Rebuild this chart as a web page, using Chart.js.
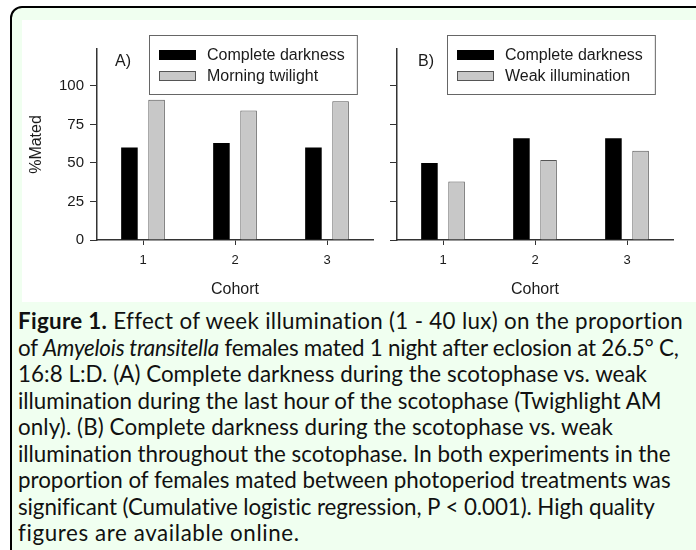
<!DOCTYPE html>
<html>
<head>
<meta charset="utf-8">
<script src="https://cdn.jsdelivr.net/npm/chart.js@4.4.0/dist/chart.umd.min.js"></script>
<style>
  html, body { margin: 0; padding: 0; background: #fff; width: 696px; height: 550px; overflow: hidden; }
  #frame { position: absolute; left: 10px; top: 6px; width: 720px; height: 580px; border: 2px solid #000; border-radius: 12px; background: #f0fff0; }
  #plot { position: absolute; left: 22px; top: 20px; width: 674px; height: 282px; background: #fff; }
  canvas { position: absolute; top: 0; }
  #chartA { left: 0; }
  #chartB { left: 363px; }
  #caption { position: absolute; left: 18px; top: 308px; font-family: Lato, sans-serif; font-size: 19px; line-height: 26.5px; color: #111; white-space: nowrap; }
  #caption .ln { width: max-content; height: 26.5px; }
  #caption b { font-weight: 700; }
</style>
</head>
<body>
<div id="frame"></div>
<div id="plot">
  <canvas id="chartA" width="363" height="282"></canvas>
  <canvas id="chartB" width="311" height="282"></canvas>
</div>
<div id="caption">
  <div class="ln"><b>Figure 1.</b> Effect of week illumination (1 - 40 lux) on the proportion</div>
  <div class="ln">of <i>Amyelois transitella</i> females mated 1 night after eclosion at 26.5° C,</div>
  <div class="ln">16:8 L:D. (A) Complete darkness during the scotophase vs. weak</div>
  <div class="ln">illumination during the last hour of the scotophase (Twighlight AM</div>
  <div class="ln">only). (B) Complete darkness during the scotophase vs. weak</div>
  <div class="ln">illumination throughout the scotophase. In both experiments in the</div>
  <div class="ln">proportion of females mated between photoperiod treatments was</div>
  <div class="ln">significant (Cumulative logistic regression, P &lt; 0.001). High quality</div>
  <div class="ln">figures are available online.</div>
</div>
<script>
const cohorts = ['1', '2', '3'];
const yTicks = [0, 25, 50, 75, 100];
const yMax = 124;

const darknessA = [60, 63, 60];
const twilightA = [91, 84, 90];
const darknessB = [50, 66, 66];
const weakB = [38, 52, 58];

const FONT = "'Liberation Sans', Arial, sans-serif";
const AXIS = '#333333';
const TEXT = '#1a1a1a';

// legend box with border + panel letter, drawn after the bars
const panelDecor = {
  id: 'panelDecor',
  afterDraw(chart, args, opts) {
    const ctx = chart.ctx;
    const area = chart.chartArea;
    ctx.save();
    ctx.font = '16px ' + FONT;
    ctx.textBaseline = 'middle';
    ctx.textAlign = 'left';
    ctx.fillStyle = TEXT;
    ctx.fillText(opts.tag, area.left + opts.tagDx, 42);

    const sets = chart.data.datasets;
    const tw = Math.max(...sets.map(d => ctx.measureText(d.label).width));
    const x0 = area.left + opts.legendDx, y0 = 15;
    ctx.strokeStyle = '#666';
    ctx.lineWidth = 1;
    ctx.strokeRect(x0 + 0.5, y0 + 0.5, 58 + tw + 12, 59);
    sets.forEach((d, i) => {
      const sy = y0 + 15 + i * 21;
      ctx.fillStyle = d.backgroundColor;
      ctx.fillRect(x0 + 10, sy, 37, 10);
      if (d.borderWidth) {
        ctx.strokeStyle = d.borderColor;
        ctx.strokeRect(x0 + 10.5, sy + 0.5, 36, 9);
      }
      ctx.fillStyle = TEXT;
      ctx.fillText(d.label, x0 + 58, sy + 5.5);
    });
    ctx.restore();
  }
};

function makePanel(id, sets, opt) {
  return new Chart(document.getElementById(id), {
    type: 'bar',
    data: {
      labels: cohorts,
      datasets: sets.map(s => ({
        label: s.label,
        data: s.data,
        backgroundColor: s.color,
        borderColor: '#555',
        borderWidth: s.border,
        categoryPercentage: 0.59,
        barPercentage: 0.61
      }))
    },
    options: {
      responsive: false,
      animation: false,
      devicePixelRatio: 1,
      layout: { padding: { top: 29, right: opt.rightPad, left: 0, bottom: 0 } },
      plugins: {
        legend: { display: false },
        tooltip: { enabled: false },
        panelDecor: { tag: opt.tag, tagDx: opt.tagDx, legendDx: opt.legendDx }
      },
      scales: {
        x: {
          offset: true,
          grid: { offset: false, drawOnChartArea: false, drawTicks: true, tickLength: 5, color: AXIS, lineWidth: 1 },
          border: { display: true, color: AXIS, width: 1.5 },
          ticks: { color: TEXT, font: { family: FONT, size: 13 }, padding: 8 },
          title: { display: true, text: 'Cohort', color: TEXT, font: { family: FONT, size: 16 }, padding: { top: 0, bottom: 3 } },
          afterFit: s => { s.height = 62; }
        },
        y: {
          min: 0,
          max: yMax,
          afterBuildTicks: s => { s.ticks = yTicks.map(v => ({ value: v })); },
          grid: { drawOnChartArea: false, drawTicks: true, tickLength: 7, color: AXIS, lineWidth: 1 },
          border: { display: true, color: AXIS, width: 1.5 },
          ticks: {
            color: TEXT,
            font: { family: FONT, size: 15 },
            padding: 6,
            callback: v => opt.yLabels ? v : ''
          },
          title: { display: opt.yLabels, text: '%Mated', color: TEXT, font: { family: FONT, size: 16 }, padding: { top: 5, bottom: 0 } },
          afterFit: s => { s.width = opt.yWidth; }
        }
      }
    },
    plugins: [panelDecor]
  });
}

makePanel('chartA', [
  { label: 'Complete darkness', data: darknessA, color: '#000000', border: 0 },
  { label: 'Morning twilight', data: twilightA, color: '#c8c8c8', border: 1 }
], { tag: 'A)', tagDx: 18, legendDx: 52, yLabels: true, yWidth: 75, rightPad: 12 });

makePanel('chartB', [
  { label: 'Complete darkness', data: darknessB, color: '#000000', border: 0 },
  { label: 'Weak illumination', data: weakB, color: '#c8c8c8', border: 1 }
], { tag: 'B)', tagDx: 21, legendDx: 50, yLabels: false, yWidth: 12, rightPad: 23 });

// caption: one font size for all lines, then a small per-line spacing fix
const lineWidths = [665, 660, 629, 644, 595, 653, 653, 637, 307];
const cap = document.getElementById('caption');
const lines = [...cap.querySelectorAll('.ln')];
function fitCaption() {
  lines.forEach(ln => { ln.style.letterSpacing = '0px'; });
  cap.style.fontSize = '19px';
  const total = lines.slice(0, 8).reduce((a, ln) => a + ln.getBoundingClientRect().width, 0);
  const want = lineWidths.slice(0, 8).reduce((a, b) => a + b, 0);
  cap.style.fontSize = (19 * want / total) + 'px';
  lines.forEach((ln, i) => {
    const w = ln.getBoundingClientRect().width;
    const ls = (lineWidths[i] - w) / ln.textContent.length;
    ln.style.letterSpacing = Math.max(-0.6, Math.min(0.6, ls)) + 'px';
  });
}
fitCaption();
document.fonts.ready.then(fitCaption);
</script>
</body>
</html>
